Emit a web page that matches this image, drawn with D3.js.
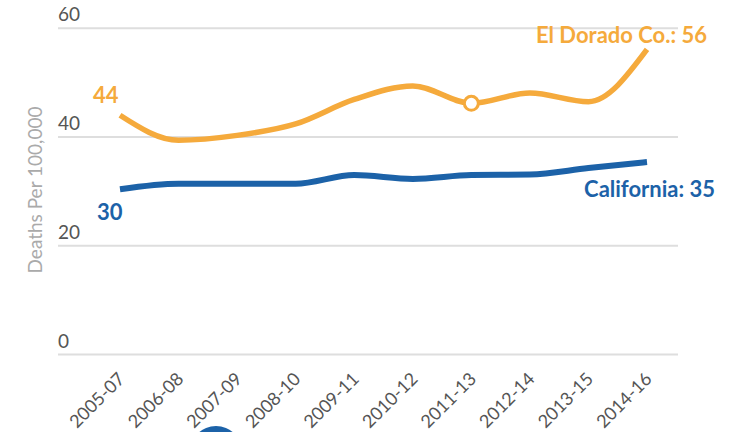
<!DOCTYPE html>
<html>
<head>
<meta charset="utf-8">
<script src="https://cdn.jsdelivr.net/npm/d3@7"></script>
<style>
  body { margin: 0; background: #fff; }
  svg { display: block; font-family: Lato, "Open Sans", sans-serif; }
</style>
</head>
<body>
<div id="chart"></div>
<script>
// Data
const periods = ["2005-07", "2006-08", "2007-09", "2008-10", "2009-11",
                 "2010-12", "2011-13", "2012-14", "2013-15", "2014-16"];
const elDorado = [43.9, 39.3, 40.2, 42.3, 46.8, 49.3, 46.1, 48.0, 46.4, 56.0];
const california = [30.3, 31.3, 31.3, 31.3, 32.9, 32.2, 32.9, 33.0, 34.2, 35.3];
const yTicks = [0, 20, 40, 60];

const width = 730, height = 432;
const orange = "#f5aa3c", blue = "#1c62a8";

const svg = d3.select("#chart").append("svg")
    .attr("width", width)
    .attr("height", height);

const x = d3.scalePoint()
    .domain(periods)
    .range([120, 647]);

const y = d3.scaleLinear()
    .domain([0, 60])
    .range([354, 27.7]);

// Gridlines + y tick labels
const grid = svg.append("g")
    .attr("transform", "translate(58,0)")
    .call(d3.axisRight(y).tickValues(yTicks).tickSize(620).tickFormat(d3.format("d")));
grid.select(".domain").remove();
grid.selectAll(".tick line")
    .attr("stroke", "#dedede")
    .attr("stroke-width", 2);
grid.selectAll(".tick text")
    .attr("x", 0)
    .attr("dy", -7)
    .attr("text-anchor", "start")
    .attr("fill", "#555")
    .style("font-size", "19px")
    .style("font-family", "Lato, sans-serif");

// y axis title
svg.append("text")
    .attr("transform", "translate(42,190) rotate(-90)")
    .attr("text-anchor", "middle")
    .attr("fill", "#aaa")
    .style("font-size", "19px")
    .text("Deaths Per 100,000");

// x labels
svg.append("g")
    .selectAll("text")
    .data(periods)
    .enter()
    .append("text")
    .attr("transform", d => `translate(${x(d) + 6},380) rotate(-45)`)
    .attr("text-anchor", "end")
    .attr("fill", "#555")
    .style("font-size", "18px")
    .text(d => d);

// partial blue circle at the bottom edge
svg.append("circle")
    .attr("cx", 216)
    .attr("cy", 452)
    .attr("r", 26)
    .attr("fill", blue);

const line = d3.line()
    .x((d, i) => x(periods[i]))
    .y(d => y(d))
    .curve(d3.curveMonotoneX);

svg.append("path")
    .datum(california)
    .attr("d", line)
    .attr("fill", "none")
    .attr("stroke", blue)
    .attr("stroke-width", 6);

svg.append("path")
    .datum(elDorado)
    .attr("d", line)
    .attr("fill", "none")
    .attr("stroke", orange)
    .attr("stroke-width", 5.5);

// highlighted point
svg.append("circle")
    .attr("cx", x(periods[6]))
    .attr("cy", y(elDorado[6]))
    .attr("r", 7)
    .attr("fill", "#fff")
    .attr("stroke", orange)
    .attr("stroke-width", 3);

// value labels
const labels = [
    {text: "44", x: 93, y: 103, color: orange, anchor: "start"},
    {text: "El Dorado Co.: 56", x: 707, y: 43, color: orange, anchor: "end"},
    {text: "30", x: 97, y: 220, color: blue, anchor: "start"},
    {text: "California: 35", x: 715, y: 197, color: blue, anchor: "end"}
];
svg.append("g")
    .selectAll("text")
    .data(labels)
    .enter()
    .append("text")
    .attr("x", d => d.x)
    .attr("y", d => d.y)
    .attr("text-anchor", d => d.anchor)
    .attr("fill", d => d.color)
    .style("font-size", "22px")
    .style("font-weight", "bold")
    .text(d => d.text);
</script>
</body>
</html>
